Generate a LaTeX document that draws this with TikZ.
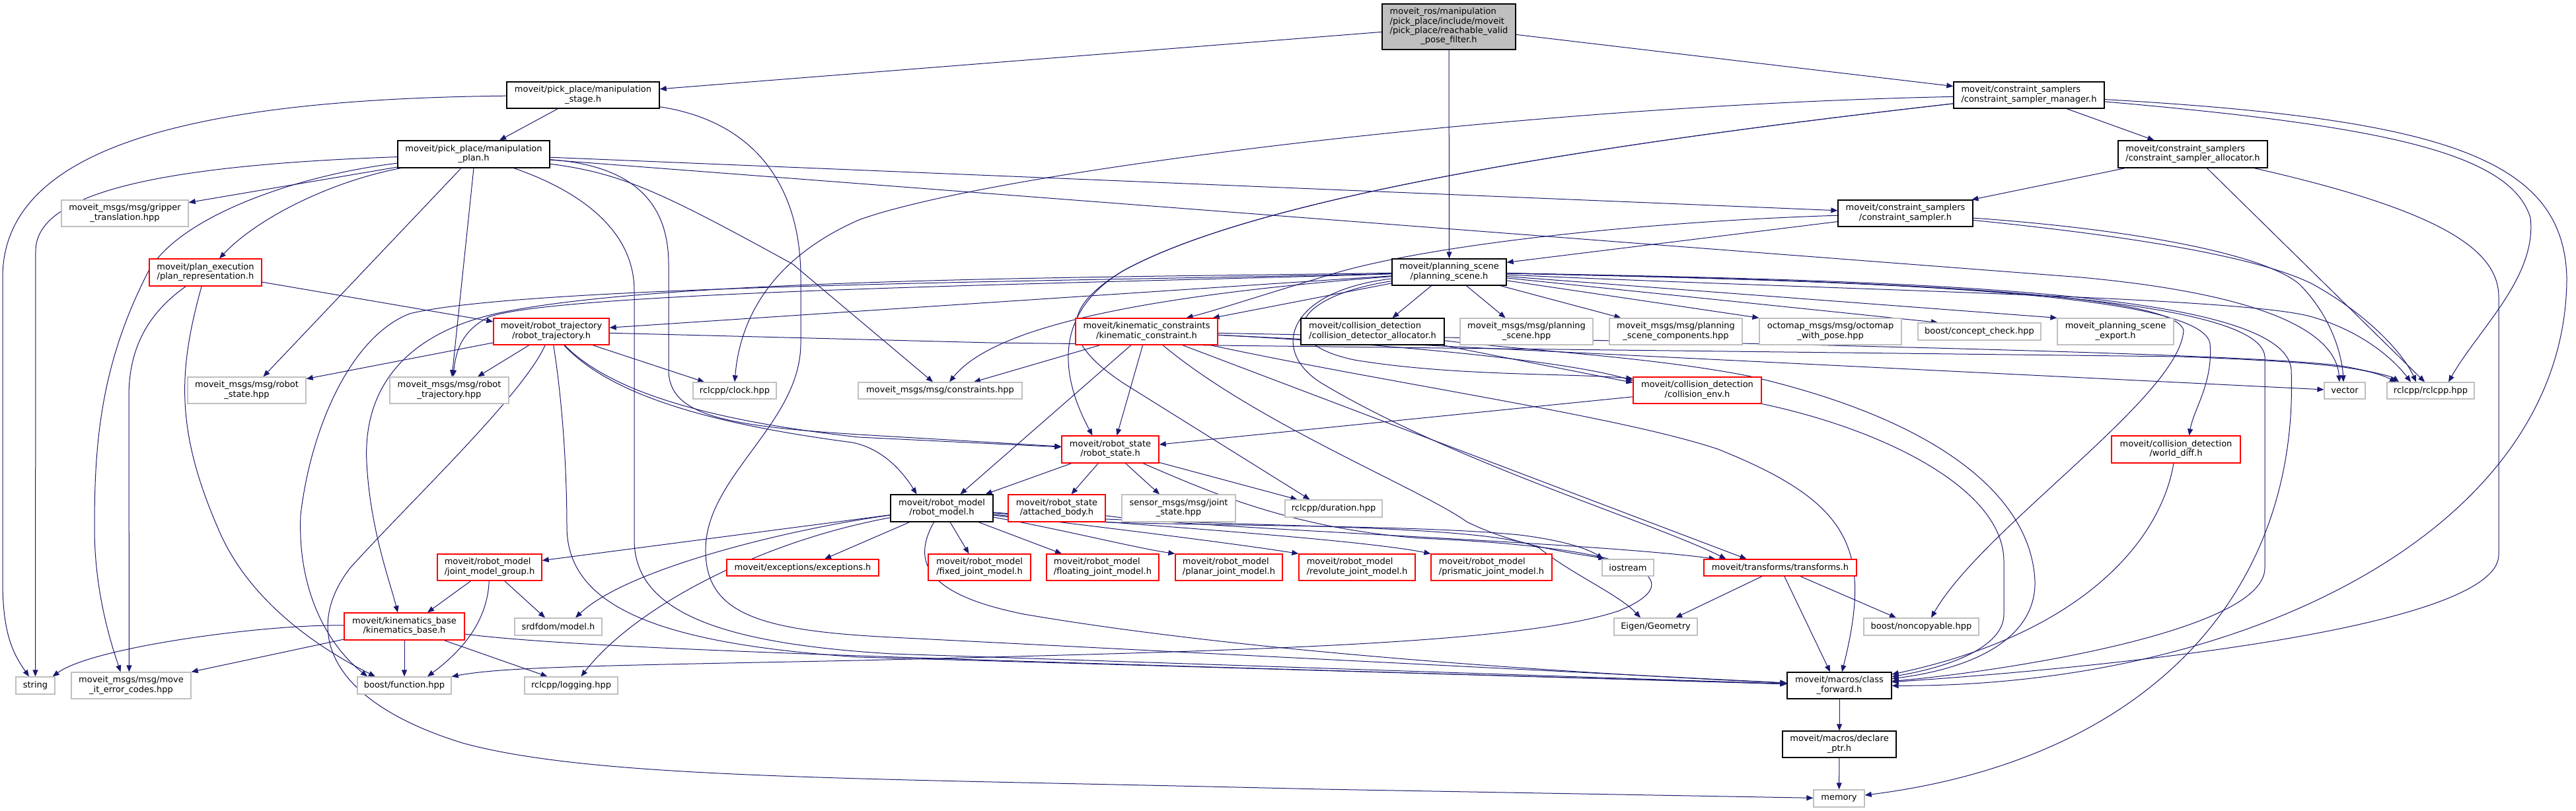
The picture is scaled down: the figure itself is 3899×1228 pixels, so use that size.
\documentclass[tikz,border=0pt]{standalone}
\usepackage{fontspec}
\setmainfont{DejaVu Sans}
\usetikzlibrary{arrows.meta,calc}
\definecolor{edgecol}{RGB}{25,25,112}
\definecolor{grayb}{RGB}{191,191,191}
\newcommand\twol[2]{\begin{tabular}{@{}l@{}}#1\\\multicolumn{1}{@{}c@{}}{#2}\end{tabular}}
\pgfdeclarelayer{bglayer}
\pgfdeclarelayer{edgelayer}
\pgfsetlayers{bglayer,edgelayer,main}
\begin{document}
\begin{tikzpicture}[x=1pt,y=-1pt,
  base/.style={rectangle, inner sep=0pt, font=\fontsize{13}{14.4}\selectfont, line width=1.3pt},
  nb/.style={base, draw=black, fill=white},
  ng/.style={base, draw=grayb, fill=white},
  nr/.style={base, draw=red, fill=white},
  rootn/.style={base, draw=black, fill=grayb},
  e/.style={draw=edgecol, line width=1pt, -{Triangle[length=10pt,width=8pt]}},
]
\useasboundingbox (0,0) rectangle (3899,1228);
\begin{pgfonlayer}{bglayer}
\fill[white] (0,0) rectangle (3899,1228);
\end{pgfonlayer}

% ---------- nodes ----------
\node[rootn, minimum width=202pt, minimum height=69pt] (root) at (2193,40.5)
  {\begin{tabular}{@{}l@{}}moveit\_ros/manipulation\\/pick\_place/include/moveit\\/pick\_place/reachable\_valid\\\multicolumn{1}{@{}c@{}}{\_pose\_filter.h}\end{tabular}};
\node[nb, minimum width=231pt, minimum height=40pt] (mstage) at (882.5,144) {\twol{moveit/pick\_place/manipulation}{\_stage.h}};
\node[nb, minimum width=230pt, minimum height=41pt] (mplan) at (717,233.5) {\twol{moveit/pick\_place/manipulation}{\_plan.h}};
\node[nb, minimum width=228pt, minimum height=40pt] (csm) at (3071,144) {\twol{moveit/constraint\_samplers}{/constraint\_sampler\_manager.h}};
\node[nb, minimum width=226pt, minimum height=41pt] (csa) at (3319,233.5) {\twol{moveit/constraint\_samplers}{/constraint\_sampler\_allocator.h}};
\node[nb, minimum width=204pt, minimum height=40pt] (cs) at (2884,323) {\twol{moveit/constraint\_samplers}{/constraint\_sampler.h}};
\node[ng, minimum width=192pt, minimum height=40pt] (gripper) at (189,323) {\twol{moveit\_msgs/msg/gripper}{\_translation.hpp}};
\node[nr, minimum width=170pt, minimum height=41pt] (planrep) at (311,412.5) {\twol{moveit/plan\_execution}{/plan\_representation.h}};
\node[nb, minimum width=173pt, minimum height=40pt] (ps) at (2193.5,412) {\twol{moveit/planning\_scene}{/planning\_scene.h}};
\node[nr, minimum width=175pt, minimum height=40pt] (rtraj) at (834.5,502) {\twol{moveit/robot\_trajectory}{/robot\_trajectory.h}};
\node[nr, minimum width=215pt, minimum height=40pt] (kc) at (1735.5,502) {\twol{moveit/kinematic\_constraints}{/kinematic\_constraint.h}};
\node[nb, minimum width=217pt, minimum height=40pt] (cda) at (2077.5,502) {\twol{moveit/collision\_detection}{/collision\_detector\_allocator.h}};
\node[ng, minimum width=201pt, minimum height=40pt] (psmsg) at (2310.5,502) {\twol{moveit\_msgs/msg/planning}{\_scene.hpp}};
\node[ng, minimum width=201pt, minimum height=40pt] (pscomp) at (2536.5,502) {\twol{moveit\_msgs/msg/planning}{\_scene\_components.hpp}};
\node[ng, minimum width=215pt, minimum height=40pt] (octo) at (2770.5,502) {\twol{octomap\_msgs/msg/octomap}{\_with\_pose.hpp}};
\node[ng, minimum width=186pt, minimum height=26pt] (concept) at (2996,502) {boost/concept\_check.hpp};
\node[ng, minimum width=176pt, minimum height=40pt] (psexport) at (3202,502) {\twol{moveit\_planning\_scene}{\_export.h}};
\node[ng, minimum width=179pt, minimum height=40pt] (rsmsg) at (373.5,591) {\twol{moveit\_msgs/msg/robot}{\_state.hpp}};
\node[ng, minimum width=180pt, minimum height=40pt] (rtmsg) at (680,591) {\twol{moveit\_msgs/msg/robot}{\_trajectory.hpp}};
\node[ng, minimum width=126pt, minimum height=25pt] (clock) at (1112,591.5) {rclcpp/clock.hpp};
\node[ng, minimum width=248pt, minimum height=25pt] (constraints) at (1423,591.5) {moveit\_msgs/msg/constraints.hpp};
\node[nr, minimum width=194pt, minimum height=40pt] (cenv) at (2569,591) {\twol{moveit/collision\_detection}{/collision\_env.h}};
\node[ng, minimum width=62pt, minimum height=25pt] (vector) at (3549,591.5) {vector};
\node[ng, minimum width=132pt, minimum height=25pt] (rclcpp) at (3679,591.5) {rclcpp/rclcpp.hpp};
\node[nr, minimum width=147pt, minimum height=41pt] (rstate) at (1680.5,680.5) {\twol{moveit/robot\_state}{/robot\_state.h}};
\node[nr, minimum width=195pt, minimum height=41pt] (wdiff) at (3293.5,680.5) {\twol{moveit/collision\_detection}{/world\_diff.h}};
\node[nb, minimum width=155pt, minimum height=41pt] (rmodel) at (1425.5,769.5) {\twol{moveit/robot\_model}{/robot\_model.h}};
\node[nr, minimum width=147pt, minimum height=41pt] (abody) at (1599.5,769.5) {\twol{moveit/robot\_state}{/attached\_body.h}};
\node[ng, minimum width=172pt, minimum height=41pt] (jstate) at (1784,769.5) {\twol{sensor\_msgs/msg/joint}{\_state.hpp}};
\node[ng, minimum width=147pt, minimum height=26pt] (duration) at (2018.5,770) {rclcpp/duration.hpp};
\node[nr, minimum width=158pt, minimum height=40pt] (jmg) at (741,859) {\twol{moveit/robot\_model}{/joint\_model\_group.h}};
\node[nr, minimum width=230pt, minimum height=25pt] (exc) at (1215,859.5) {moveit/exceptions/exceptions.h};
\node[nr, minimum width=155pt, minimum height=40pt] (fixed) at (1482.5,859) {\twol{moveit/robot\_model}{/fixed\_joint\_model.h}};
\node[nr, minimum width=170pt, minimum height=40pt] (floating) at (1669,859) {\twol{moveit/robot\_model}{/floating\_joint\_model.h}};
\node[nr, minimum width=162pt, minimum height=40pt] (planar) at (1860,859) {\twol{moveit/robot\_model}{/planar\_joint\_model.h}};
\node[nr, minimum width=176pt, minimum height=40pt] (revolute) at (2054,859) {\twol{moveit/robot\_model}{/revolute\_joint\_model.h}};
\node[nr, minimum width=183pt, minimum height=40pt] (prismatic) at (2257.5,859) {\twol{moveit/robot\_model}{/prismatic\_joint\_model.h}};
\node[ng, minimum width=78pt, minimum height=25pt] (iostream) at (2464,859.5) {iostream};
\node[nr, minimum width=231pt, minimum height=25pt] (transforms) at (2694.5,859.5) {moveit/transforms/transforms.h};
\node[nr, minimum width=182pt, minimum height=41pt] (kbase) at (612,948.5) {\twol{moveit/kinematics\_base}{/kinematics\_base.h}};
\node[ng, minimum width=132pt, minimum height=26pt] (srdf) at (845,949) {srdfdom/model.h};
\node[ng, minimum width=126pt, minimum height=26pt] (eigen) at (2506,949) {Eigen/Geometry};
\node[ng, minimum width=174pt, minimum height=26pt] (noncopy) at (2908,949) {boost/noncopyable.hpp};
\node[ng, minimum width=59pt, minimum height=26pt] (string) at (53.5,1038) {string};
\node[ng, minimum width=181pt, minimum height=40pt] (errcodes) at (198.5,1038) {\twol{moveit\_msgs/msg/move}{\_it\_error\_codes.hpp}};
\node[ng, minimum width=142pt, minimum height=26pt] (bfunc) at (612,1038) {boost/function.hpp};
\node[ng, minimum width=141pt, minimum height=26pt] (logging) at (864.5,1038) {rclcpp/logging.hpp};
\node[nb, minimum width=158pt, minimum height=40pt] (cfwd) at (2784,1038) {\twol{moveit/macros/class}{\_forward.h}};
\node[nb, minimum width=172pt, minimum height=40pt] (declptr) at (2784,1127) {\twol{moveit/macros/declare}{\_ptr.h}};
\node[ng, minimum width=77pt, minimum height=26pt] (memory) at (2783.5,1209) {memory};

% ---------- edges ----------
\begin{pgfonlayer}{edgelayer}
% root
\draw[e] (root) -- (mstage);
\draw[e] (root) -- (ps);
\draw[e] (root) -- (csm);
% manipulation_stage
\draw[e] (mstage) -- (mplan);
\draw[e] (mstage) .. controls (300,150) and (4,220) .. (4,420) -- (4,880) .. controls (4,960) and (20,990) .. (string);
\draw[e] (mstage) .. controls (1150,185) and (1212,290) .. (1212,420) -- (1212,520) .. controls (1212,640) and (1070,720) .. (1068,830) .. controls (1066,930) and (1150,955) .. (1350,965) -- (cfwd);
% manipulation_plan
\draw[e] (mplan) -- (gripper);
\draw[e] (mplan) .. controls (250,250) and (54,290) .. (54,380) -- (string);
\draw[e] (mplan) .. controls (450,265) and (260,330) .. (220,420) .. controls (150,560) and (143,680) .. (143,800) .. controls (143,900) and (170,980) .. ([xshift=-16pt]errcodes.north);
\draw[e] (mplan) .. controls (500,275) and (390,330) .. ([xshift=21pt]planrep.north);
\draw[e] ([xshift=-19pt]mplan.south) -- ([xshift=25pt]rsmsg.north);
\draw[e] (mplan.south) -- ([xshift=4pt]rtmsg.north);
\draw[e] (mplan) .. controls (950,250) and (1012,300) .. (1012,400) -- (1012,560) .. controls (1012,630) and (1100,645) .. (1300,658) -- (rstate);
\draw[e] (mplan) .. controls (940,262) and (1000,290) .. (1200,400) -- ([xshift=-11pt]constraints.north);
\draw[e] (mplan) -- (cs);
\draw[e] (mplan) -- (3150,420) .. controls (3420,445) and (3535,500) .. ([xshift=-8pt]vector.north);
\draw[e] (mplan) .. controls (880,290) and (960,350) .. (960,440) -- (960,820) .. controls (962,930) and (1100,975) .. (1350,990) -- (cfwd);
% plan_representation
\draw[e] (planrep) -- (rtraj);
\draw[e] (planrep) .. controls (230,470) and (195,520) .. (195,600) -- ([xshift=-3pt]errcodes.north);
\draw[e] (planrep) .. controls (270,560) and (265,650) .. (330,800) .. controls (380,920) and (500,990) .. ([xshift=-44pt]bfunc.north);
% robot_trajectory
\draw[e] (rtraj) -- (rsmsg);
\draw[e] (rtraj) -- ([xshift=43pt]rtmsg.north);
\draw[e] (rtraj) -- ([xshift=-46pt]clock.north);
\draw[e] (rtraj) .. controls (930,600) and (1100,640) .. (1300,662) -- (rstate);
\draw[e] (rtraj) .. controls (930,605) and (1100,645) .. (1290,670) .. controls (1340,680) and (1370,720) .. ([xshift=-38pt]rmodel.north);
\draw[e] (rtraj) -- (1500,519) -- (3300,540) .. controls (3500,548) and (3580,555) .. ([xshift=-52pt]rclcpp.north);
\draw[e] (rtraj) .. controls (850,600) and (858,700) .. (858,800) .. controls (860,920) and (1000,975) .. (1300,995) -- (cfwd);
\draw[e] (rtraj) .. controls (790,600) and (620,760) .. (530,860) .. controls (460,950) and (490,1060) .. (700,1125) .. controls (900,1180) and (1300,1178) .. (2000,1195) -- (memory);
% planning_scene
\draw[e] (ps) -- (rtraj);
\draw[e] (ps) .. controls (1700,420) and (1000,420) .. (750,475) .. controls (600,510) and (550,600) .. (555,700) .. controls (560,800) and (590,880) .. ([xshift=-10pt]kbase.north);
\draw[e] (ps) .. controls (1700,425) and (800,430) .. (620,475) .. controls (530,510) and (470,650) .. (455,780) .. controls (450,900) and (500,980) .. ([xshift=-56pt]bfunc.north);
\draw[e] (ps) .. controls (1700,428) and (850,440) .. (740,480) .. controls (700,500) and (690,530) .. ([xshift=6pt]rtmsg.north);
\draw[e] (ps) .. controls (1700,450) and (1500,500) .. ([xshift=14pt]constraints.north);
\draw[e] (ps) -- ([xshift=-8pt]kc.north east);
\draw[e] ([xshift=-27pt]ps.south) -- ([xshift=30pt]cda.north);
\draw[e] ([xshift=26pt]ps.south) -- ([xshift=-32pt]psmsg.north);
\draw[e] (ps) -- ([xshift=-83pt]pscomp.north);
\draw[e] (ps) -- (octo.north west);
\draw[e] (ps) -- ([xshift=-63pt]concept.north);
\draw[e] (ps) -- (psexport.north west);
\draw[e] (ps) .. controls (2800,440) and (3400,450) .. (3500,480) .. controls (3570,500) and (3620,540) .. ([xshift=-30pt]rclcpp.north);
\draw[e] (ps) .. controls (1950,450) and (1930,520) .. (2050,545) .. controls (2200,570) and (2380,565) .. ([yshift=-3pt]cenv.north west);
\draw[e] (ps) .. controls (2800,425) and (3330,440) .. (3345,520) .. controls (3350,580) and (3320,620) .. ([xshift=20pt]wdiff.north);
\draw[e] (ps) .. controls (1950,440) and (1920,530) .. (2000,580) .. controls (2200,700) and (2500,790) .. ([xshift=-82pt]transforms.north);
\draw[e] (ps) .. controls (2800,425) and (3290,440) .. (3305,500) .. controls (3300,600) and (3000,800) .. ([xshift=15pt]noncopy.north);
\draw[e] (ps) .. controls (2800,425) and (3420,440) .. (3428,540) -- (3428,860) .. controls (3428,960) and (3000,1020) .. (cfwd);
\draw[e] (ps) .. controls (2900,425) and (3460,440) .. (3468,560) .. controls (3480,900) and (3250,1150) .. (memory);
% kinematic_constraint
\draw[e] (kc) -- ([xshift=51pt]constraints.north);
\draw[e] (kc) -- ([xshift=28pt]rmodel.north);
\draw[e] (kc) -- ([xshift=10pt]rstate.north);
\draw[e] (kc) .. controls (1900,640) and (2150,740) .. (2220,790) .. controls (2300,830) and (2400,840) .. ([xshift=5pt]iostream.north west);
\draw[e] (kc) -- ([xshift=-51pt]transforms.north);
\draw[e] (kc) .. controls (2000,515) and (2350,540) .. ([yshift=-6pt]cenv.north west);
\draw[e] (kc) -- (vector);
\draw[e] (kc) .. controls (2200,512) and (3400,530) .. (3550,555) .. controls (3600,565) and (3620,570) .. ([xshift=-48pt]rclcpp.north);
\draw[e] (kc) .. controls (2100,580) and (2450,630) .. (2600,680) .. controls (2800,760) and (2835,830) .. ([xshift=4pt]cfwd.north);
% robot_state
\draw[e] (rstate) -- ([xshift=66pt]rmodel.north);
\draw[e] (rstate) -- ([xshift=22pt]abody.north);
\draw[e] (rstate) -- ([xshift=-29pt]jstate.north);
\draw[e] (rstate) -- ([xshift=-55pt]duration.north);
\draw[e] (rstate) .. controls (1820,740) and (1950,800) .. (2150,815) .. controls (2500,830) and (2560,880) .. (2450,925) .. controls (2300,975) and (1900,985) .. (1300,1000) .. controls (900,1008) and (760,1010) .. (bfunc);
% robot_model
\draw[e] (rmodel) -- (jmg);
\draw[e] (rmodel) -- ([xshift=33pt]exc.north);
\draw[e] (rmodel) .. controls (1200,800) and (950,860) .. ([xshift=26pt]srdf.north);
\draw[e] (rmodel) .. controls (1150,820) and (960,920) .. ([xshift=15pt]logging.north);
\draw[e] (rmodel) -- ([xshift=-16pt]fixed.north);
\draw[e] (rmodel) -- ([xshift=-62pt]floating.north);
\draw[e] (rmodel) .. controls (1600,800) and (1720,830) .. (planar.north west);
\draw[e] (rmodel) .. controls (1600,790) and (1850,820) .. (revolute.north west);
\draw[e] (rmodel) .. controls (1650,790) and (2050,815) .. (prismatic.north west);
\draw[e] (rmodel) .. controls (1650,800) and (2100,790) .. (2300,810) .. controls (2380,820) and (2410,835) .. ([xshift=2pt]iostream.north west);
\draw[e] (rmodel) .. controls (1800,800) and (2250,790) .. (2330,830) .. controls (2380,870) and (2450,900) .. ([xshift=-23pt]eigen.north);
\draw[e] (rmodel) .. controls (1380,850) and (1400,900) .. (1550,930) .. controls (1900,990) and (2400,1020) .. (cfwd);
% attached_body
\draw[e] (abody) .. controls (1800,800) and (2400,820) .. ([xshift=-98pt]transforms.north);
% joint_model_group
\draw[e] (jmg) -- ([xshift=35pt]kbase.north);
\draw[e] (jmg) .. controls (738,940) and (700,985) .. ([xshift=35pt]bfunc.north);
\draw[e] (jmg) -- ([xshift=-20pt]srdf.north);
% kinematics_base
\draw[e] (kbase) .. controls (400,945) and (140,980) .. ([xshift=-4pt]string.north east);
\draw[e] (kbase) -- (errcodes.north east);
\draw[e] (kbase) -- (bfunc);
\draw[e] (kbase) -- ([xshift=-36pt]logging.north);
\draw[e] (kbase) .. controls (900,985) and (1500,1000) .. (cfwd);
% collision
\draw[e] (cenv) -- (rstate);
\draw[e] (cenv) .. controls (2850,650) and (3033,740) .. (3033,850) -- (3033,930) .. controls (3033,980) and (2950,1010) .. (cfwd);
\draw[e] (cda) -- ([yshift=-9pt]cenv.north west);
\draw[e] (cda) .. controls (2300,530) and (2500,540) .. (2650,570) .. controls (2950,640) and (3075,760) .. (3080,880) .. controls (3082,960) and (3000,1010) .. (cfwd);
\draw[e] (wdiff) .. controls (3270,820) and (3150,960) .. (cfwd);
% transforms
\draw[e] (transforms) -- ([xshift=30pt]eigen.north);
\draw[e] (transforms) -- ([xshift=-38pt]noncopy.north);
\draw[e] (transforms) -- ([xshift=-14pt]cfwd.north);
% macros
\draw[e] (cfwd) -- (declptr);
\draw[e] (declptr) -- (memory);
% constraint samplers
\draw[e] (cs) -- ([yshift=-6pt]ps.north east);
\draw[e] (cs) .. controls (2500,335) and (2150,370) .. (2000,420) .. controls (1900,450) and (1840,470) .. ([xshift=60pt]kc.north);
\draw[e] (cs) .. controls (3200,345) and (3420,380) .. (3480,430) .. controls (3530,480) and (3545,540) .. ([xshift=-2pt]vector.north);
\draw[e] (cs) .. controls (3150,350) and (3400,380) .. (3500,430) .. controls (3590,480) and (3640,540) .. ([xshift=-22pt]rclcpp.north);
\draw[e] (csa) -- (cs);
\draw[e] (csa) -- ([xshift=-9pt]rclcpp.north);
\draw[e] (csa) .. controls (3700,320) and (3782,380) .. (3782,450) -- (3782,840) .. controls (3782,950) and (3200,1010) .. (cfwd);
\draw[e] (csm) -- (csa);
\draw[e] (csm) .. controls (2300,160) and (1500,260) .. (1300,333) .. controls (1170,390) and (1120,480) .. (clock.north);
\draw[e] (csm) .. controls (2400,220) and (1900,300) .. (1700,410) .. controls (1600,470) and (1600,560) .. ([xshift=-27pt]rstate.north);
\draw[e] (csm) .. controls (2400,220) and (1900,300) .. (1700,410) .. controls (1600,470) and (1610,520) .. (1700,580) -- ([xshift=-36pt]duration.north);
\draw[e] (csm) .. controls (3600,190) and (3800,230) .. (3830,330) .. controls (3840,420) and (3750,500) .. ([xshift=27pt]rclcpp.north);
\draw[e] (csm) .. controls (3700,180) and (3880,240) .. (3885,420) .. controls (3885,800) and (3400,1040) .. (cfwd);
\end{pgfonlayer}
\end{tikzpicture}
\end{document}
